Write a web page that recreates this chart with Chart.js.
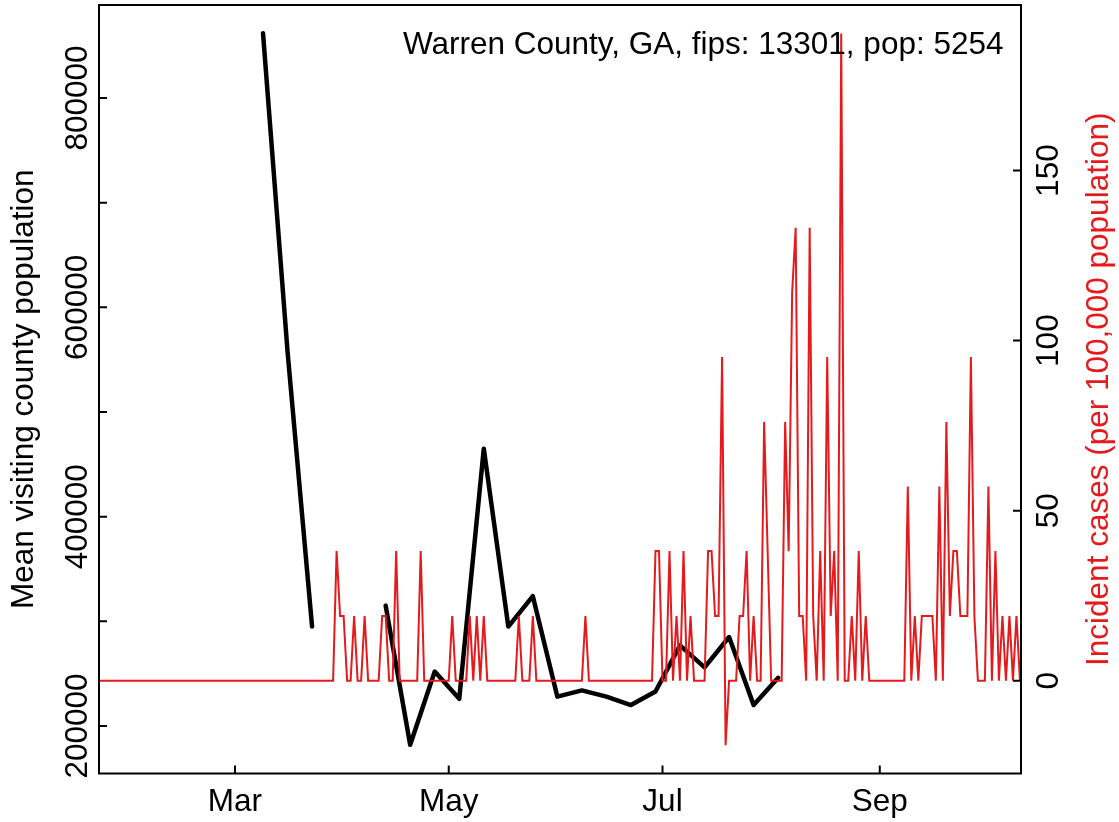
<!DOCTYPE html>
<html><head><meta charset="utf-8">
<script src="https://cdn.jsdelivr.net/npm/chart.js@4"></script>
<style>html,body{margin:0;padding:0;background:#fff}#wrap{width:1119px;height:822px}</style>
</head><body><div id="wrap"><canvas id="c" width="1119" height="822"></canvas></div>
<script>
// ---- data ----
const visitDates = ['2020-03-09','2020-03-16','2020-03-23','2020-03-30','2020-04-06','2020-04-13','2020-04-20','2020-04-27','2020-05-04','2020-05-11','2020-05-18','2020-05-25','2020-06-01','2020-06-08','2020-06-15','2020-06-22','2020-06-29','2020-07-06','2020-07-13','2020-07-20','2020-07-27','2020-08-03'];
const visitValues = [862000,558000,295000,null,null,315000,182000,252000,226000,465000,295000,324000,228000,234000,228000,220000,233000,277000,256000,285000,220000,246000];

const caseStartDate = '2020-01-22';
const caseValues = [
 0,0,0,0,0,0,0,0,0,0, 0,0,0,0,0,0,0,0,0,0,                                   // Jan22-Feb10
 0,0,0,0,0,0,0,0,0,0, 0,0,0,0,0,0,0,0,0,0,                                   // Feb11-Mar1
 0,0,0,0,0,0,0,0,0,0, 0,0,0,0,0,0,0,0,0,0,                                   // Mar2-Mar21
 0,0,0,0,0,0,0,0,38.1,19.0, 19.0,0,0,19.0,0,0,19.0,0,0,0,                    // Mar22-Apr10
 0,19.0,19.0,0,0,38.1,0,0,0,0, 0,0,38.1,0,0,0,0,0,0,0,                       // Apr11-Apr30
 0,19.0,0,0,0,0,19.0,0,19.0,0, 19.0,0,0,0,0,0,0,0,0,0,                       // May1-May20
 19.0,0,0,0,19.0,0,0,0,0,0, 0,0,0,0,0,0,0,0,0,19.0,                          // May21-Jun9
 0,0,0,0,0,0,0,0,0,0, 0,0,0,0,0,0,0,0,0,38.1,                                // Jun10-Jun29
 38.1,0,0,38.1,0,19.0,0,38.1,0,19.0, 0,0,0,0,38.1,38.1,19.0,19.0,95.2,-19.0, // Jun30-Jul19
 0,0,0,19.0,19.0,38.1,0,19.0,0,0, 76.1,38.1,0,0,0,0,76.1,38.1,114.2,133.2,   // Jul20-Aug8
 19.0,19.0,0,133.2,19.0,0,38.1,0,95.2,19.0, 38.1,0,190.3,0,0,19.0,0,38.1,0,19.0, // Aug9-Aug28
 0,0,0,0,0,0,0,0,0,0, 0,57.1,0,19.0,0,19.0,19.0,19.0,19.0,0,                 // Aug29-Sep17
 57.1,0,76.1,19.0,38.1,38.1,19.0,19.0,19.0,95.2, 19.0,0,0,0,57.1,0,38.1,0,19.0,0, // Sep18-Oct7
 19.0,0,19.0,0,19.0                                                          // Oct8-Oct12
];

const monthTickDates = ['2020-03-01','2020-05-01','2020-07-01','2020-09-01'];
const monthTickLabels = ['Mar','May','Jul','Sep'];
const leftTickValues = [200000,300000,400000,500000,600000,700000,800000];
const leftLabelValues = [200000,400000,600000,800000];
const rightTickValues = [0,50,100,150];
const annotationText = 'Warren County, GA, fips: 13301, pop: 5254';
const leftTitleText = 'Mean visiting county population';
const rightTitleText = 'Incident cases (per 100,000 population)';

// ---- helpers ----
const DAY0 = Date.parse('2020-01-01T00:00:00Z');
function dayNum(s){ return (Date.parse(s + 'T00:00:00Z') - DAY0) / 86400000; }

const visitPoints = visitDates.map((d, i) => ({x: dayNum(d), y: visitValues[i]}));
const caseStart = dayNum(caseStartDate);
const casePoints = caseValues.map((v, i) => ({x: caseStart + i, y: v}));

const RED = '#E41A1C';
const FONT = '31.5px "Liberation Sans", Arial, Helvetica, sans-serif';

const axesPlugin = {
  id: 'rAxes',
  afterDraw(chart) {
    const ctx = chart.ctx, a = chart.chartArea;
    const sx = chart.scales.x, sy = chart.scales.y, sr = chart.scales.y2;
    ctx.save();
    ctx.strokeStyle = '#000'; ctx.lineWidth = 2;
    ctx.strokeRect(a.left, a.top, a.right - a.left, a.bottom - a.top);
    const TL = 8;
    ctx.beginPath();
    monthTickDates.forEach(d => { const px = sx.getPixelForValue(dayNum(d)); ctx.moveTo(px, a.bottom); ctx.lineTo(px, a.bottom - TL); });
    leftTickValues.forEach(v => { const py = sy.getPixelForValue(v); ctx.moveTo(a.left, py); ctx.lineTo(a.left + TL, py); });
    rightTickValues.forEach(v => { const py = sr.getPixelForValue(v); ctx.moveTo(a.right, py); ctx.lineTo(a.right - TL, py); });
    ctx.stroke();

    ctx.font = FONT; ctx.fillStyle = '#000'; ctx.textBaseline = 'alphabetic';
    ctx.textAlign = 'center';
    monthTickDates.forEach((d, i) => ctx.fillText(monthTickLabels[i], sx.getPixelForValue(dayNum(d)), a.bottom + 37));
    const rot = (x, y, txt, color) => { ctx.save(); ctx.translate(x, y); ctx.rotate(-Math.PI / 2); ctx.fillStyle = color; ctx.textAlign = 'center'; ctx.fillText(txt, 0, 0); ctx.restore(); };
    leftLabelValues.forEach(v => rot(a.left - 12, sy.getPixelForValue(v), String(v), '#000'));
    rightTickValues.forEach(v => rot(a.right + 37, sr.getPixelForValue(v), String(v), '#000'));
    const midY = (a.top + a.bottom) / 2;
    rot(33, midY, leftTitleText, '#000');
    rot(1108, midY, rightTitleText, RED);
    ctx.textAlign = 'right';
    ctx.fillText(annotationText, a.right - 17.5, a.top + 49);
    ctx.restore();
  }
};

new Chart(document.getElementById('c'), {
  type: 'line',
  data: {
    datasets: [
      { label: 'cases', data: casePoints, yAxisID: 'y2', borderColor: RED, borderWidth: 2, pointRadius: 0, tension: 0, clip: 0, order: 0, borderJoinStyle: 'miter' },
      { label: 'visitors', data: visitPoints, yAxisID: 'y', borderColor: '#000', borderWidth: 4.5, pointRadius: 0, tension: 0, spanGaps: false, clip: 0, order: 1, borderJoinStyle: 'round', borderCapStyle: 'round' }
    ]
  },
  options: {
    responsive: false, animation: false, devicePixelRatio: 1,
    layout: { padding: { left: 99, right: 98, top: 5, bottom: 48.5 } },
    plugins: { legend: { display: false }, tooltip: { enabled: false }, title: { display: false } },
    scales: {
      x: { type: 'linear', display: false, min: 21.2, max: 284.3 },
      y: { type: 'linear', display: false, position: 'left', min: 154600, max: 888900 },
      y2: { type: 'linear', display: false, position: 'right', min: -27.3, max: 198.7 }
    }
  },
  plugins: [axesPlugin]
});
</script>
</body></html>
